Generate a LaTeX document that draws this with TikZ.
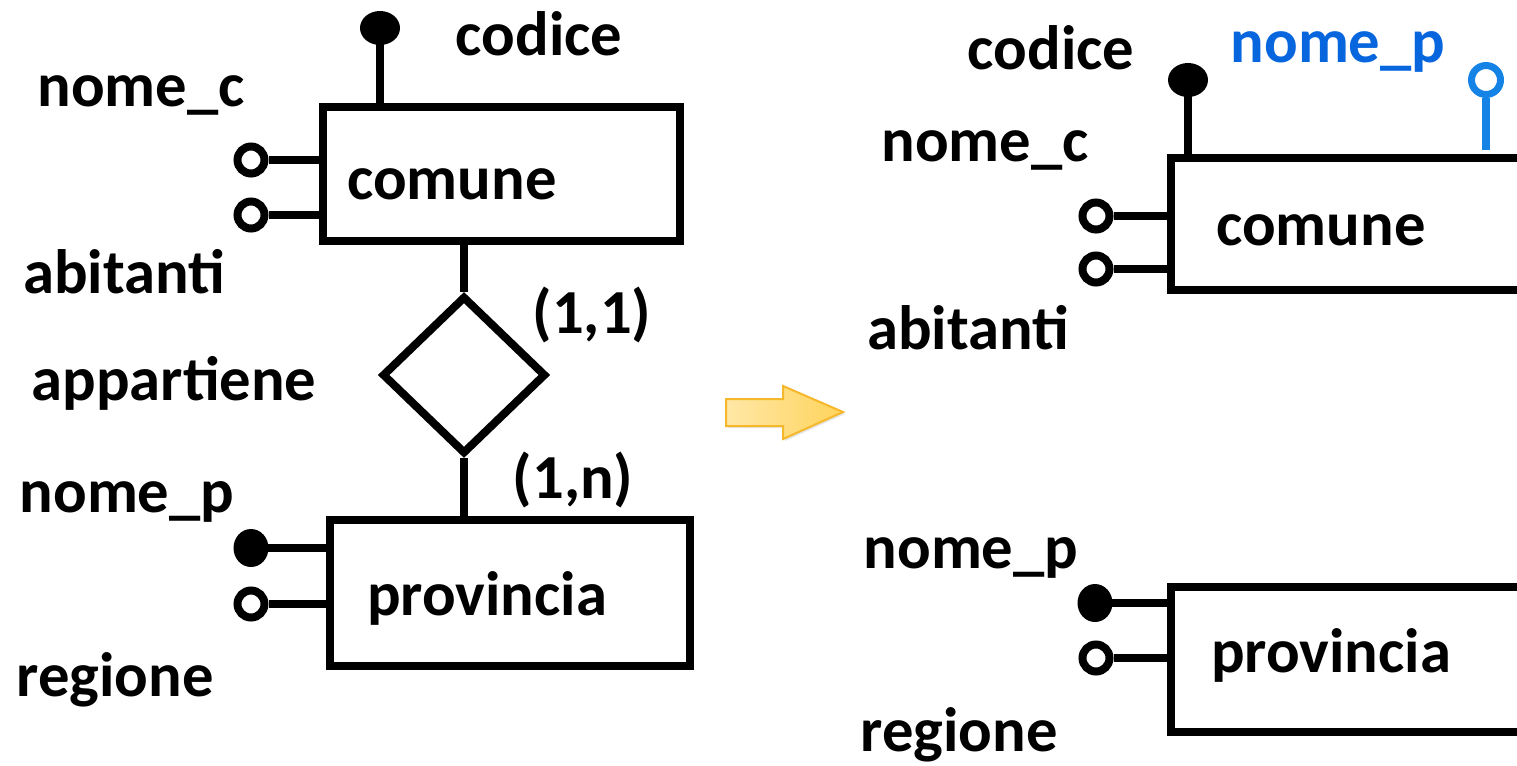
\documentclass[tikz,border=0pt]{standalone}
\usepackage{fontspec}
\setmainfont{Carlito}
\usetikzlibrary{shapes.geometric,shadows}
\newcommand\pxu{0.75pt}
\definecolor{bluetext}{HTML}{0766DE}
\definecolor{blueline}{HTML}{1582E6}
\definecolor{arrowedge}{HTML}{F5B82A}
\definecolor{arrowlight}{HTML}{FFE7A6}
\definecolor{arrowdark}{HTML}{FFD45C}
\tikzset{
  ent/.style={draw, line width=8*\pxu, inner sep=0pt},
  rel/.style={diamond, draw, line width=8*\pxu, inner sep=0pt},
  lbl/.style={font=\fontsize{47}{56}\selectfont\bfseries, inner sep=0pt},
  conn/.style={line width=8*\pxu},
  opena/.style={circle, draw, line width=8*\pxu, minimum size=27*\pxu, inner sep=0pt, fill=white},
  keyside/.style={ellipse, fill, minimum width=35*\pxu, minimum height=38*\pxu, inner sep=0pt},
  keytop/.style={ellipse, fill, minimum width=40*\pxu, minimum height=34*\pxu, inner sep=0pt},
}
\begin{document}
\begin{tikzpicture}[x=\pxu,y=-\pxu]
\clip (0,0) rectangle (1517,765);
\fill[white] (0,0) rectangle (1517,765);

% ---------------- left diagram ----------------
\node[ent, minimum width=357*\pxu, minimum height=134*\pxu] (comL) at (501.5,174) {};
\node[lbl] (comLt) at (452,184) {comune};
\node[keytop] (codL) at (380,28) {};
\draw[conn] (codL.center) -- (codL.center |- comL.north);
\node[lbl] (codLt) at (539,34) {codice};
\node[opena] (ncL) at (251,160) {};
\draw[conn] (ncL.east) -- (ncL -| comL.west);
\node[opena] (abL) at (251,215) {};
\draw[conn] (abL.east) -- (abL -| comL.west);
\node[lbl] (ncLt) at (141,95) {nome\_c};
\node[lbl] (abLt) at (124,272) {abitanti};

\node[rel, minimum width=164*\pxu, minimum height=158*\pxu] (app) at (464,375) {};
\node[lbl] (appt) at (174,383) {appartiene};
\node[lbl] (c11) at (592,315) {(1,1)};
\node[lbl] (c1n) at (573,480) {(1,n)};

\node[ent, minimum width=360*\pxu, minimum height=146*\pxu] (provL) at (510,593) {};
\node[lbl] (provLt) at (487,598) {provincia};
\draw[conn] (app.north |- comL.south) -- (app.north);
\draw[conn] (app.south) -- (app.south |- provL.north);
\node[keyside] (npL) at (251,548) {};
\draw[conn] (npL.center) -- (npL -| provL.west);
\node[opena] (rgL) at (251,604) {};
\draw[conn] (rgL.east) -- (rgL -| provL.west);
\node[lbl] (npLt) at (127,502) {nome\_p};
\node[lbl] (rgLt) at (115,680) {regione};

% ---------------- arrow ----------------
\shade[left color=arrowlight, right color=arrowdark, draw=arrowedge, line width=2*\pxu,
       drop shadow={opacity=0.2, shadow xshift=1.5pt, shadow yshift=-1.5pt}]
  (726,399) -- (783,399) -- (783,386) -- (843,412) -- (783,439) -- (783,426) -- (726,426) -- cycle;

% ---------------- right diagram ----------------
\node[ent, minimum width=529*\pxu, minimum height=132*\pxu] (comR) at (1435.5,224) {};
\node[lbl] (comRt) at (1321,230) {comune};
\node[keytop] (codR) at (1188,80) {};
\draw[conn] (codR.center) -- (codR.center |- comR.north);
\node[lbl] (codRt) at (1051,48) {codice};
\node[opena, draw=blueline, line width=7*\pxu, minimum size=29*\pxu] (npR) at (1486,80) {};
\draw[conn, blueline, shorten >=4*\pxu] (npR.south) -- (npR |- comR.north);
\node[lbl, text=bluetext] (npRt) at (1338,52) {nome\_p};
\node[opena] (ncR) at (1096,216) {};
\draw[conn] (ncR.east) -- (ncR -| comR.west);
\node[opena] (abR) at (1096,269) {};
\draw[conn] (abR.east) -- (abR -| comR.west);
\node[lbl] (ncRt) at (985,150) {nome\_c};
\node[lbl] (abRt) at (968,328) {abitanti};

\node[ent, minimum width=529*\pxu, minimum height=145*\pxu] (provR) at (1435.5,659.5) {};
\node[lbl] (provRt) at (1331,655) {provincia};
\node[keyside] (npR2) at (1095,603) {};
\draw[conn] (npR2.center) -- (npR2 -| provR.west);
\node[opena] (rgR) at (1096,658) {};
\draw[conn] (rgR.east) -- (rgR -| provR.west);
\node[lbl] (npR2t) at (971,558) {nome\_p};
\node[lbl] (rgRt) at (959,735) {regione};
\end{tikzpicture}
\end{document}
